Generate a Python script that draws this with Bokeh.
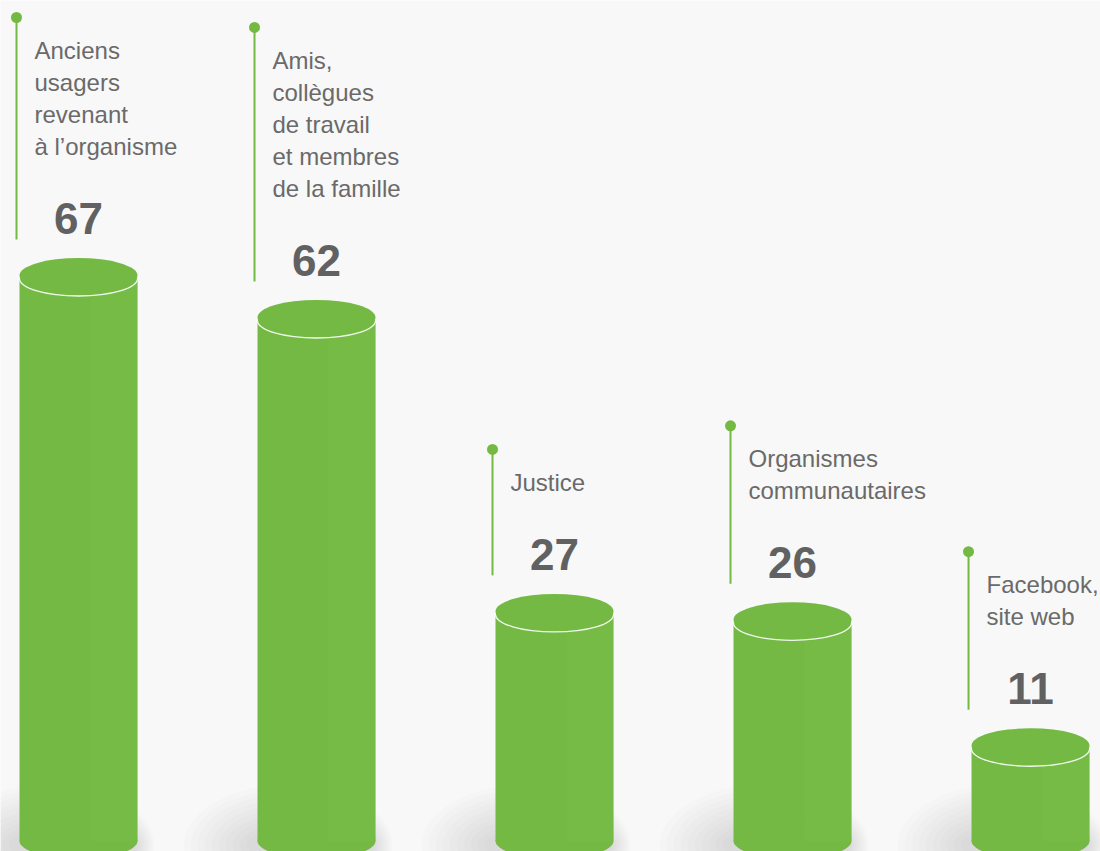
from bokeh.plotting import figure
from bokeh.models import Range1d
from bokeh.core.properties import value
from bokeh.embed import file_html
from bokeh.resources import INLINE

# ---- data ----
label_lines = [
    ["Anciens", "usagers", "revenant", "à l’organisme"],
    ["Amis,", "collègues", "de travail", "et membres", "de la famille"],
    ["Justice"],
    ["Organismes", "communautaires"],
    ["Facebook,", "site web"],
]
counts = [67, 62, 27, 26, 11]

# ---- style ----
GREEN = "#74b944"
BG = "#f8f8f8"
TEXT_GRAY = "#6a6a6a"
NUM_GRAY = "#616161"
W, H = 1100, 851
X0, X1 = -0.3277, 4.294
Y0, Y1 = -1.2385, 100.107
PXX = W / (X1 - X0)
PXY = H / (Y1 - Y0)


def dx(px):
    return px / PXX


def dy(px):
    return px / PXY


BAR_W = dx(118)
CAP_H = 35

xs = list(range(len(counts)))

p = figure(width=W, height=H, x_range=Range1d(X0, X1), y_range=Range1d(Y0, Y1),
           output_backend="svg", toolbar_location=None, min_border=0,
           background_fill_color=BG, border_fill_color=BG, outline_line_color=None)
p.axis.visible = False
p.grid.visible = False

# soft shadows at the base (many faint layers)
for k in range(10):
    w = 128 + 9 * k
    h = 40 + 9 * k
    sx = -6 - 2.5 * k
    p.ellipse(x=[x + dx(sx) for x in xs], y=[dy(-4)] * len(xs), width=dx(w), height=h,
              height_units="screen", fill_color="black", fill_alpha=0.012, line_color=None)

# cylinder bodies
p.vbar(x=xs, top=counts, bottom=0, width=BAR_W, fill_color=GREEN, line_color=None)
p.ellipse(x=xs, y=[0] * len(xs), width=BAR_W, height=CAP_H, height_units="screen",
          fill_color=GREEN, line_color=None)
# right-side subtle highlight strip
p.vbar(x=[x + BAR_W * 0.3 for x in xs], top=counts, bottom=0, width=BAR_W * 0.4,
       fill_color="#7cbf4c", fill_alpha=0.3, line_color=None)

# top caps with white front rim
p.ellipse(x=xs, y=counts, width=BAR_W, height=CAP_H, height_units="screen",
          fill_color=GREEN, line_color="white", line_alpha=0.9, line_width=1.3)
p.ellipse(x=xs, y=[c + dy(3) for c in counts], width=BAR_W, height=CAP_H, height_units="screen",
          fill_color=GREEN, line_color=None)

# value labels
p.text(x=xs, y=[c + dy(60) for c in counts], text=[str(c) for c in counts],
       text_align="center", text_baseline="middle", text_font=value("Liberation Sans"),
       text_font_style="bold", text_font_size="44px", text_color=NUM_GRAY)

# category labels, leader lines and dots
tx, ty, tt = [], [], []
lx, ly0, ly1 = [], [], []
for i, lines in enumerate(label_lines):
    n = len(lines)
    for k, line in enumerate(lines):
        tx.append(i - dx(44))
        ty.append(counts[i] + dy(132 + 32 * (n - 1 - k)))
        tt.append(line)
    lx.append(i - dx(62))
    ly0.append(counts[i] + dy(132 + 32 * (n - 1) + 33))
    ly1.append(counts[i] + dy(39))

p.text(x=tx, y=ty, text=tt, text_align="left", text_baseline="middle",
       text_font=value("Liberation Sans"), text_font_size="24px", text_color=TEXT_GRAY)
p.segment(x0=lx, y0=ly0, x1=lx, y1=ly1, line_color=GREEN, line_width=2)
p.scatter(x=lx, y=ly0, size=11, fill_color=GREEN, line_color=None)

open("out.html", "w").write(file_html(p, INLINE))
